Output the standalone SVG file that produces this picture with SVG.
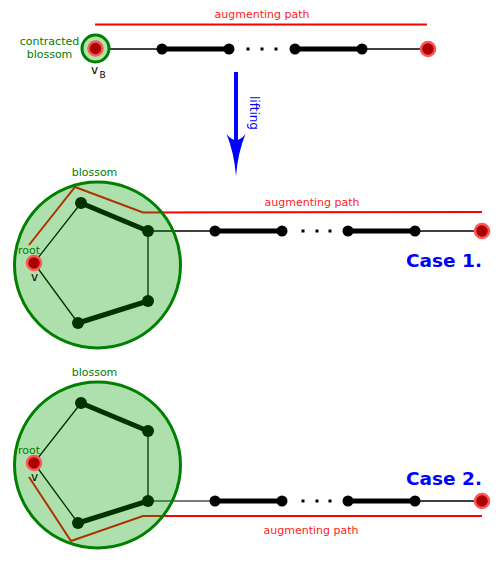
<svg xmlns="http://www.w3.org/2000/svg" width="500" height="567" viewBox="0 0 500 567">
<defs>
<style>
text{font-family:"DejaVu Sans","Liberation Sans",sans-serif}
.g{fill:#008000;font-size:11px}
.r{fill:#ff1a1a;font-size:11px}
.case{fill:#0000ff;font-size:18.5px;font-weight:bold}
.thin{stroke:#000;stroke-width:1.3;fill:none}
.thick{stroke:#000;stroke-width:5;fill:none}
.path{stroke:#ff0000;stroke-width:2;fill:none}
.blk{fill:#000}
.red{fill:#aa0000;stroke:#ff5555;stroke-width:2.5}
.bl{fill:#00a000;fill-opacity:0.32;stroke:#008000;stroke-width:3}
.dot{fill:#000}
</style>
</defs>
<rect width="500" height="567" fill="#fff"/>
<g id="connectors">
<line class="path" x1="95" y1="24.5" x2="427" y2="24.5"/>
<line class="thin" x1="95" y1="49" x2="162" y2="49"/>
<line class="thick" x1="162" y1="49" x2="229" y2="49"/>
<line class="thick" x1="295" y1="49" x2="362" y2="49"/>
<line class="thin" x1="362" y1="49" x2="428" y2="49"/>
<rect class="dot" x="246.5" y="47.5" width="3" height="3"/>
<rect class="dot" x="260.5" y="47.5" width="3" height="3"/>
<rect class="dot" x="274.5" y="47.5" width="3" height="3"/>
<polyline class="path" points="29,245 75,187 143,212.5 482,212"/>
<line class="thin" x1="81" y1="203" x2="34" y2="263"/>
<line class="thin" x1="34" y1="263" x2="78" y2="323"/>
<line class="thin" x1="148" y1="231" x2="148" y2="301"/>
<line class="thick" x1="81" y1="203" x2="148" y2="231"/>
<line class="thick" x1="148" y1="301" x2="78" y2="323"/>
<line class="thin" x1="148" y1="231" x2="215" y2="231"/>
<line class="thick" x1="215" y1="231" x2="282" y2="231"/>
<line class="thick" x1="348" y1="231" x2="415" y2="231"/>
<line class="thin" x1="415" y1="231" x2="482" y2="231"/>
<rect class="dot" x="301.5" y="229.5" width="3" height="3"/>
<rect class="dot" x="315.5" y="229.5" width="3" height="3"/>
<rect class="dot" x="328.5" y="229.5" width="3" height="3"/>
<polyline class="path" points="29,477 71,541 143,516 482,516"/>
<line class="thin" x1="81" y1="403" x2="34" y2="463"/>
<line class="thin" x1="34" y1="463" x2="78" y2="523"/>
<line class="thin" x1="148" y1="431" x2="148" y2="501"/>
<line class="thick" x1="81" y1="403" x2="148" y2="431"/>
<line class="thick" x1="148" y1="501" x2="78" y2="523"/>
<line class="thin" x1="148" y1="501" x2="215" y2="501" style="stroke:#4d4d4d"/>
<line class="thick" x1="215" y1="501" x2="282" y2="501"/>
<line class="thick" x1="348" y1="501" x2="415" y2="501"/>
<line class="thin" x1="415" y1="501" x2="482" y2="501"/>
<rect class="dot" x="301.5" y="499.5" width="3" height="3"/>
<rect class="dot" x="315.5" y="499.5" width="3" height="3"/>
<rect class="dot" x="328.5" y="499.5" width="3" height="3"/>
<line x1="236" y1="72" x2="236" y2="142" stroke="#0000ff" stroke-width="4"/>
<path d="M226.5,134 Q236,146 245.5,134 Q238,152 236,176 Q234,152 226.5,134 Z" fill="#0000ff"/>
</g>
<g id="top-row">
<g id="vB">
<circle cx="95.5" cy="48.5" r="13.5" fill="#aae5aa" stroke="#008000" stroke-width="3"/>
<circle class="red" cx="95.5" cy="48.5" r="7"/>
</g>
<circle id="t1" class="blk" cx="162" cy="49" r="5.5"/>
<circle id="t2" class="blk" cx="229" cy="49" r="5.5"/>
<circle id="t3" class="blk" cx="295" cy="49" r="5.5"/>
<circle id="t4" class="blk" cx="362" cy="49" r="5.5"/>
<circle id="t5" class="red" cx="428" cy="49" r="7"/>
</g>
<g id="case1">
<circle class="blk" cx="81" cy="203" r="6"/>
<circle class="blk" cx="148" cy="231" r="6"/>
<circle class="blk" cx="148" cy="301" r="6"/>
<circle class="blk" cx="78" cy="323" r="6"/>
<circle id="blossom1" class="bl" cx="97.5" cy="265" r="83"/>
<circle id="root1" class="red" cx="34" cy="263" r="7"/>
<circle class="blk" cx="215" cy="231" r="5.5"/>
<circle class="blk" cx="282" cy="231" r="5.5"/>
<circle class="blk" cx="348" cy="231" r="5.5"/>
<circle class="blk" cx="415" cy="231" r="5.5"/>
<circle class="red" cx="482" cy="231" r="7"/>
</g>
<g id="case2">
<circle class="blk" cx="81" cy="403" r="6"/>
<circle class="blk" cx="148" cy="431" r="6"/>
<circle class="blk" cx="148" cy="501" r="6"/>
<circle class="blk" cx="78" cy="523" r="6"/>
<circle id="blossom2" class="bl" cx="97.5" cy="465" r="83"/>
<circle id="root2" class="red" cx="34" cy="463" r="7"/>
<circle class="blk" cx="215" cy="501" r="5.5"/>
<circle class="blk" cx="282" cy="501" r="5.5"/>
<circle class="blk" cx="348" cy="501" r="5.5"/>
<circle class="blk" cx="415" cy="501" r="5.5"/>
<circle class="red" cx="482" cy="501" r="7"/>
</g>
<g id="labels">
<text class="g" x="49.5" y="45" text-anchor="middle">contracted</text>
<text class="g" x="49.5" y="57.5" text-anchor="middle">blossom</text>
<text x="91" y="73.5" font-size="12" fill="#000">v</text>
<text x="99.5" y="78" font-size="9" fill="#000">B</text>
<text class="r" x="262" y="18" text-anchor="middle">augmenting path</text>
<text x="250" y="96" font-size="12" fill="#0000ff" transform="rotate(90 250 96)">lifting</text>
<text class="g" x="94.5" y="176" text-anchor="middle">blossom</text>
<text class="g" x="29" y="254" text-anchor="middle">root</text>
<text x="34.5" y="280.5" font-size="12" fill="#000" text-anchor="middle">v</text>
<text class="r" x="312" y="205.5" text-anchor="middle">augmenting path</text>
<text class="case" x="406" y="266.5">Case 1.</text>
<text class="g" x="94.5" y="376" text-anchor="middle">blossom</text>
<text class="g" x="29" y="454" text-anchor="middle">root</text>
<text x="34.5" y="480.5" font-size="12" fill="#000" text-anchor="middle">v</text>
<text class="r" x="311" y="534" text-anchor="middle">augmenting path</text>
<text class="case" x="406" y="484.5">Case 2.</text>
</g>
</svg>
